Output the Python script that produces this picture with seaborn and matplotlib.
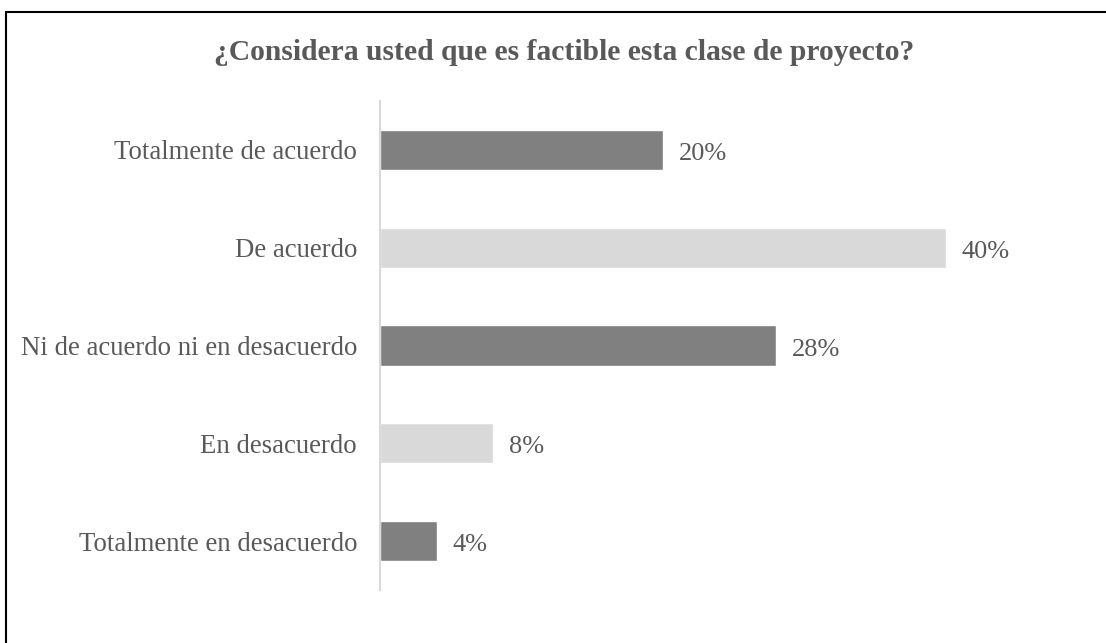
import matplotlib
matplotlib.use("Agg")
import matplotlib.pyplot as plt
from matplotlib.lines import Line2D
import seaborn as sns
import pandas as pd

categories = [
    "Totalmente de acuerdo",
    "De acuerdo",
    "Ni de acuerdo ni en desacuerdo",
    "En desacuerdo",
    "Totalmente en desacuerdo",
]
percentages = [20, 40, 28, 8, 4]
bar_colors = ["#808080", "#d9d9d9", "#808080", "#d9d9d9", "#808080"]
title = "¿Considera usted que es factible esta clase de proyecto?"

sns.set_theme(style="white")
plt.rcParams["font.family"] = ["Liberation Serif", "DejaVu Serif"]

df = pd.DataFrame({"categoria": categories, "porcentaje": percentages})

W, H = 1106, 643
fig = plt.figure(figsize=(W / 100, H / 100), dpi=100)
ax = fig.add_axes([380 / W, 1 - 590 / H, (50 * 14.15) / W, (590 - 101) / H])

sns.barplot(
    data=df, x="porcentaje", y="categoria", hue="categoria",
    palette=bar_colors, order=categories, hue_order=categories,
    width=0.41, legend=False, ax=ax, saturation=1,
)

ax.set_xlim(0, 50)
ax.set_ylim(4.5, -0.5)
ax.set_xlabel("")
ax.set_ylabel("")
ax.set_xticks([])
for side in ["top", "right", "bottom"]:
    ax.spines[side].set_visible(False)
ax.spines["left"].set_color("#d9d9d9")
ax.spines["left"].set_linewidth(1.5)
ax.tick_params(axis="y", length=0, pad=16.5, labelsize=19.3, labelcolor="#595959")

for container in ax.containers:
    texts = ax.bar_label(container, labels=[f"{v:.0f}%" for v in container.datavalues],
                         padding=11.5, fontsize=19, color="#595959")
    for t in texts:
        t.xyann = (11.5, -3)

fig.text(564 / W, 1 - 53 / H, title, ha="center", va="center",
         fontsize=21.3, fontweight="bold", color="#595959")

# frame lines on the left and top edges
fig.add_artist(Line2D([6 / W, 6 / W], [0, 1 - 12 / H], transform=fig.transFigure,
                      color="black", linewidth=1.5))
fig.add_artist(Line2D([6 / W, 1], [1 - 12 / H, 1 - 12 / H], transform=fig.transFigure,
                      color="black", linewidth=1.5))

fig.savefig("out.png", dpi=100)
